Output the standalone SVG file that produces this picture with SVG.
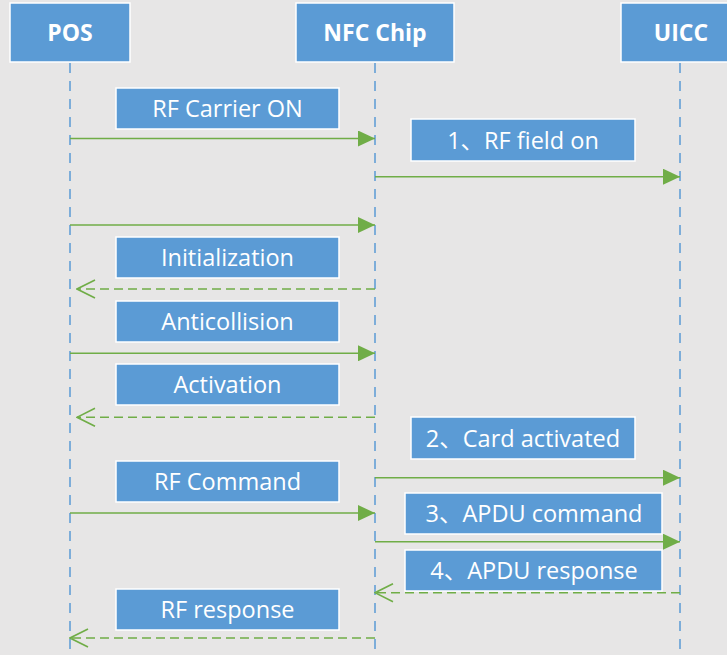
<svg xmlns="http://www.w3.org/2000/svg" width="727" height="655" viewBox="0 0 727 655">
  <style>
    .bg { fill: #e7e6e6; }
    .box { fill: #5b9bd5; stroke: #ffffff; stroke-width: 1.5; }
    .head { font-family: "Open Sans", "Noto Sans CJK SC", sans-serif; font-size: 23px; font-weight: bold; fill: #ffffff; text-anchor: middle; }
    .lbl { font-family: "Open Sans", "Noto Sans CJK SC", sans-serif; font-size: 23.5px; fill: #ffffff; text-anchor: middle; }
    .life { stroke: #5b9bd5; stroke-width: 1.5; stroke-dasharray: 10 8; fill: none; }
    .msg { stroke: #70ad47; stroke-width: 1.6; fill: none; }
    .ret { stroke: #70ad47; stroke-width: 1.6; fill: none; stroke-dasharray: 9 5; }
  </style>
  <defs>
    <marker id="solidHead" viewBox="0 0 17 16" refX="17" refY="8" markerWidth="17" markerHeight="16" markerUnits="userSpaceOnUse" orient="auto">
      <path d="M0,0 L17,8 L0,16 Z" fill="#70ad47"/>
    </marker>
    <marker id="openHead" viewBox="0 0 20 20" refX="19" refY="10" markerWidth="20" markerHeight="20" markerUnits="userSpaceOnUse" orient="auto">
      <path d="M1,1 L19,10 L1,19" fill="none" stroke="#70ad47" stroke-width="1.6"/>
    </marker>
  </defs>

  <rect class="bg" x="0" y="0" width="727" height="655"/>

  <!-- lifelines -->
  <g id="lifelines">
    <line class="life" x1="70" y1="63" x2="70" y2="655"/>
    <line class="life" x1="375" y1="63" x2="375" y2="655"/>
    <line class="life" x1="680" y1="63" x2="680" y2="655"/>
  </g>

  <!-- participants -->
  <g id="pos">
    <rect class="box" x="10" y="3" width="120" height="59"/>
    <text class="head" x="70" y="41">POS</text>
  </g>
  <g id="nfc-chip">
    <rect class="box" x="296" y="3" width="158" height="59"/>
    <text class="head" x="375" y="41">NFC Chip</text>
  </g>
  <g id="uicc">
    <rect class="box" x="621" y="3" width="120" height="59"/>
    <text class="head" x="681" y="41">UICC</text>
  </g>

  <!-- messages -->
  <g id="connectors">
    <line class="msg" x1="70" y1="138.5" x2="375" y2="138.5" marker-end="url(#solidHead)"/>
    <line class="msg" x1="375" y1="176.7" x2="680" y2="176.7" marker-end="url(#solidHead)"/>
    <line class="msg" x1="70" y1="225" x2="375" y2="225" marker-end="url(#solidHead)"/>
    <line class="ret" x1="375" y1="289" x2="77" y2="289" marker-end="url(#openHead)"/>
    <line class="msg" x1="70" y1="353.3" x2="375" y2="353.3" marker-end="url(#solidHead)"/>
    <line class="ret" x1="375" y1="417.3" x2="77" y2="417.3" marker-end="url(#openHead)"/>
    <line class="msg" x1="375" y1="477.7" x2="680" y2="477.7" marker-end="url(#solidHead)"/>
    <line class="msg" x1="70" y1="513" x2="375" y2="513" marker-end="url(#solidHead)"/>
    <line class="msg" x1="375" y1="541.7" x2="680" y2="541.7" marker-end="url(#solidHead)"/>
    <line class="ret" x1="680" y1="592.7" x2="375" y2="592.7" marker-end="url(#openHead)"/>
    <line class="ret" x1="375" y1="638" x2="70" y2="638" marker-end="url(#openHead)"/>
  </g>

  <!-- message labels -->
  <g id="lbl-rf-carrier-on">
    <rect class="box" x="116" y="88" width="223" height="41"/>
    <text class="lbl" x="227.5" y="117">RF Carrier ON</text>
  </g>
  <g id="lbl-rf-field-on">
    <rect class="box" x="411" y="119" width="224" height="42"/>
    <text class="lbl" x="523" y="148.5">1、RF field on</text>
  </g>
  <g id="lbl-initialization">
    <rect class="box" x="116" y="237" width="223" height="41"/>
    <text class="lbl" x="227.5" y="266">Initialization</text>
  </g>
  <g id="lbl-anticollision">
    <rect class="box" x="116" y="301" width="223" height="41"/>
    <text class="lbl" x="227.5" y="330">Anticollision</text>
  </g>
  <g id="lbl-activation">
    <rect class="box" x="116" y="364" width="223" height="41"/>
    <text class="lbl" x="227.5" y="393">Activation</text>
  </g>
  <g id="lbl-card-activated">
    <rect class="box" x="411" y="417" width="224" height="42"/>
    <text class="lbl" x="523" y="446.5">2、Card activated</text>
  </g>
  <g id="lbl-rf-command">
    <rect class="box" x="116" y="461" width="223" height="41"/>
    <text class="lbl" x="227.5" y="490">RF Command</text>
  </g>
  <g id="lbl-apdu-command">
    <rect class="box" x="405" y="493" width="257" height="41"/>
    <text class="lbl" x="534" y="522">3、APDU command</text>
  </g>
  <g id="lbl-apdu-response">
    <rect class="box" x="405" y="550" width="257" height="41"/>
    <text class="lbl" x="534" y="579">4、APDU response</text>
  </g>
  <g id="lbl-rf-response">
    <rect class="box" x="116" y="589" width="223" height="41"/>
    <text class="lbl" x="227.5" y="618">RF response</text>
  </g>
</svg>
